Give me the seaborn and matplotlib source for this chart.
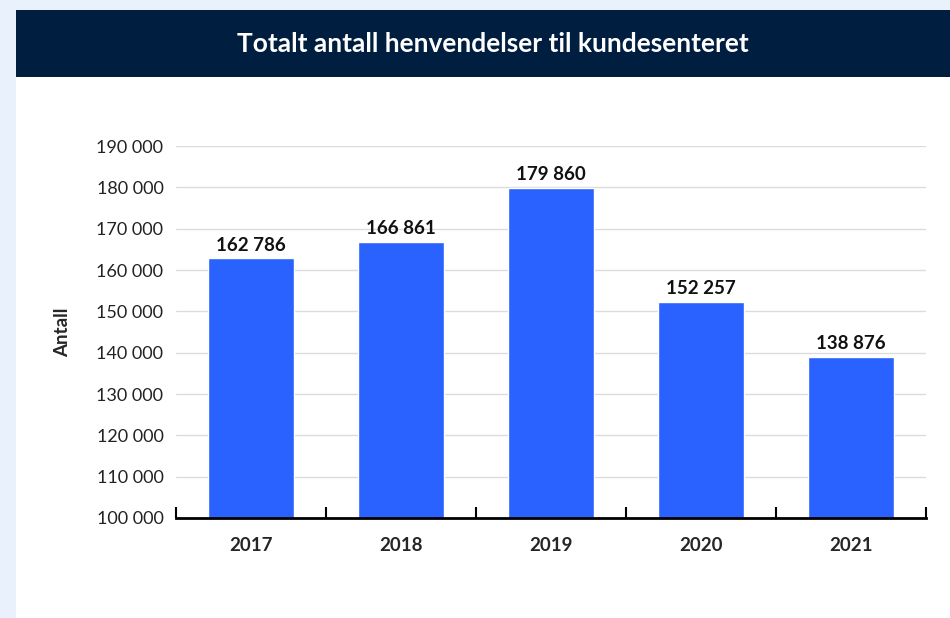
import matplotlib
matplotlib.use("Agg")
import matplotlib.pyplot as plt
import seaborn as sns
import pandas as pd
from matplotlib.patches import Rectangle
from matplotlib.ticker import FuncFormatter, FixedLocator

years = ["2017", "2018", "2019", "2020", "2021"]
values = [162786, 166861, 179860, 152257, 138876]
title = "Totalt antall henvendelser til kundesenteret"
ylabel = "Antall"

sns.set_theme(style="white")
plt.rcParams['font.family'] = ['Lato', 'DejaVu Sans']

fig = plt.figure(figsize=(9.5, 6.18), dpi=100)
fig.patch.set_facecolor("#e8f1fc")
fig.patches.append(Rectangle((16/950, 0), 1 - 16/950, 1 - 77/618, transform=fig.transFigure,
                             facecolor="white", edgecolor="none", zorder=-10))
fig.patches.append(Rectangle((16/950, 1 - 77/618), 1 - 16/950, 67/618, transform=fig.transFigure,
                             facecolor="#001e40", edgecolor="none", zorder=-10))
fig.text(493/950, 1 - 44/618, title, color="white", fontsize=19, fontweight="bold",
         ha="center", va="center")

ax = fig.add_axes([176/950, 100/618, 750/950, 372/618])
ax.set_facecolor("none")
df = pd.DataFrame({"year": years, "value": values})
sns.barplot(data=df, x="year", y="value", color="#2962ff", saturation=1, width=0.57, ax=ax, zorder=3)

ax.set_ylim(100000, 190000)
ax.set_xlim(-0.5, 4.5)
ax.set_yticks(range(100000, 190001, 10000))
ax.yaxis.set_major_formatter(FuncFormatter(lambda v, p: f"{int(v):,}".replace(",", " ")))
ax.grid(axis="y", color="#dcdcdc", linewidth=1, zorder=0)
ax.set_axisbelow(True)
for s in ["left", "right", "top"]:
    ax.spines[s].set_visible(False)
ax.spines["bottom"].set_color("black")
ax.spines["bottom"].set_linewidth(2)
ax.spines["bottom"].set_zorder(5)

ax.tick_params(axis="y", length=0, pad=9, labelsize=13, labelcolor="#222222")
ax.tick_params(axis="x", which="major", length=0, pad=14, labelsize=13.5)
for lab in ax.get_xticklabels():
    lab.set_fontweight("bold")
ax.xaxis.set_minor_locator(FixedLocator([-0.5, 0.5, 1.5, 2.5, 3.5, 4.5]))
ax.tick_params(axis="x", which="minor", bottom=True, direction="in", length=8, width=1.5, color="black")

ax.set_xlabel("")
ax.set_ylabel(ylabel, fontsize=13.5, fontweight="bold", labelpad=18)

for i, v in enumerate(values):
    ax.text(i, v + 1200, f"{v:,}".replace(",", " "), ha="center", va="bottom",
            fontsize=13.5, fontweight="bold", color="#111111", zorder=6)

fig.savefig("out.png", dpi=100, facecolor=fig.get_facecolor())
